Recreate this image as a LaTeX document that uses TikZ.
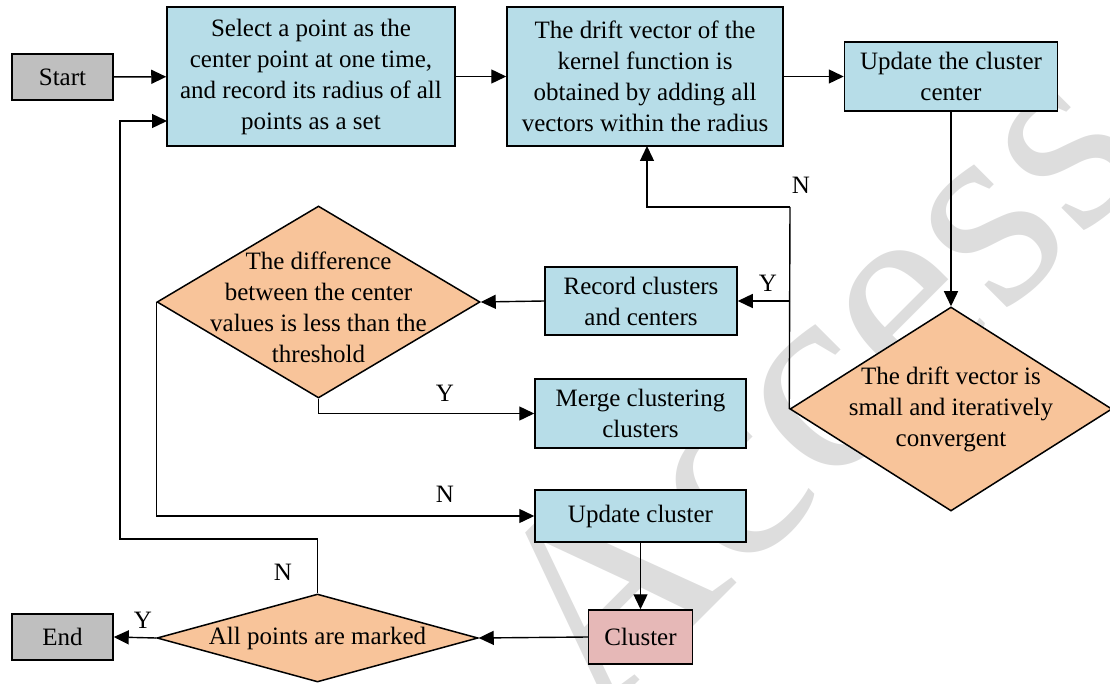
\documentclass[tikz,border=0pt]{standalone}
\usepackage{fontspec}
\setmainfont{Liberation Serif}
\usetikzlibrary{arrows.meta,shapes.geometric}
\definecolor{procblue}{HTML}{B7DDE8}
\definecolor{decorange}{HTML}{F8C49A}
\definecolor{termgray}{HTML}{BFBFBF}
\definecolor{clpink}{HTML}{E6B8B7}
\definecolor{wmgray}{HTML}{DDDDDD}
\tikzset{
  base/.style={draw=black, line width=1.5pt, inner sep=0pt, align=center,
    font=\fontsize{25}{31}\selectfont},
  proc/.style={base, rectangle, fill=procblue},
  term/.style={base, rectangle, fill=termgray},
  clbox/.style={base, rectangle, fill=clpink},
  dec/.style={base, diamond, fill=decorange},
  dectext/.style={inner sep=0pt, align=center, font=\fontsize{25}{31}\selectfont},
  lab/.style={inner sep=0pt, font=\fontsize{25}{31}\selectfont},
  conn/.style={line width=1.4pt, -{Triangle[length=15pt,width=14pt]}},
  plain/.style={line width=1.4pt}
}
\begin{document}
\begin{tikzpicture}[x=1pt,y=-1pt]
\useasboundingbox (0,0) rectangle (1110,684);
% watermark behind the chart
\begin{scope}
\clip (0,0) rectangle (1110,684);
\node[wmgray, inner sep=0pt, anchor=base west, rotate=45,
  font=\fontsize{280}{280}\selectfont] (wm) at (595,725) {Access};
\end{scope}

% process boxes
\node[term, minimum width=101pt, minimum height=46pt] (start) at (62.5,77) {Start};
\node[proc, minimum width=288pt, minimum height=139pt] (sel) at (311,76.5)
  {Select a point as the\\center point at one time,\\and record its radius of all\\points as a set};
\node[proc, minimum width=276pt, minimum height=139pt] (drift) at (645,76.5)
  {The drift vector of the\\kernel function is\\obtained by adding all\\vectors within the radius};
\node[proc, minimum width=213pt, minimum height=69pt] (upc) at (951,76.5)
  {Update the cluster\\center};
\node[proc, minimum width=192pt, minimum height=68pt] (rec) at (641,301)
  {Record clusters\\and centers};
\node[proc, minimum width=211pt, minimum height=69pt] (merge) at (640.5,413.5)
  {Merge clustering\\clusters};
\node[proc, minimum width=211pt, minimum height=52pt] (updcl) at (640.5,516)
  {Update cluster};
\node[clbox, minimum width=104pt, minimum height=54pt] (clu) at (640.5,637)
  {Cluster};
\node[term, minimum width=101pt, minimum height=46pt] (end) at (62.5,637) {End};

% decisions
\node[dec, minimum width=322pt, minimum height=204pt] (conv) at (951,409) {};
\node[dectext] (convt) at (conv.center) {The drift vector is\\small and iteratively\\convergent};
\node[dec, minimum width=323pt, minimum height=192pt] (diff) at (318.5,302) {};
\node[dectext] (difft) at (318.5,307) {The difference\\between the center\\values is less than the\\threshold};
\node[dec, minimum width=321pt, minimum height=88pt] (mark) at (317.5,638) {};
\node[dectext] (markt) at (mark.center) {All points are marked};

% helper points
\coordinate (nturn) at (790,207);
\coordinate (ybr) at (790,301);
\coordinate (loopa) at (120,539);
\coordinate (selin) at (167,121);

% connectors
\draw[conn] (start) -- (sel);
\draw[conn] (sel) -- (drift);
\draw[conn] (drift.east) -- (drift.east -| upc.west);
\draw[conn] (upc.south) -- (conv.north);
\draw[plain] (conv.west) -- (nturn);
\draw[conn] (nturn) -| (647,146);
\draw[conn] (ybr) -- (rec.east);
\draw[conn] (rec.west) -- (diff.east);
\draw[conn] (diff.south) |- (merge.west);
\draw[conn] (diff.west) |- (updcl.west);
\draw[conn] (updcl.south) -- (clu.north);
\draw[conn] (clu.west) -- (mark.east);
\draw[conn] (mark.west) -- (end.east);
\draw[conn] (mark.north) |- (loopa) |- (selin);

% branch labels
\node[lab] (ln1) at (801,185) {N};
\node[lab] (ly1) at (768,283) {Y};
\node[lab] (ly2) at (445,393) {Y};
\node[lab] (ln2) at (445,494) {N};
\node[lab] (ln3) at (283,572) {N};
\node[lab] (ly3) at (143,620) {Y};
\end{tikzpicture}
\end{document}
